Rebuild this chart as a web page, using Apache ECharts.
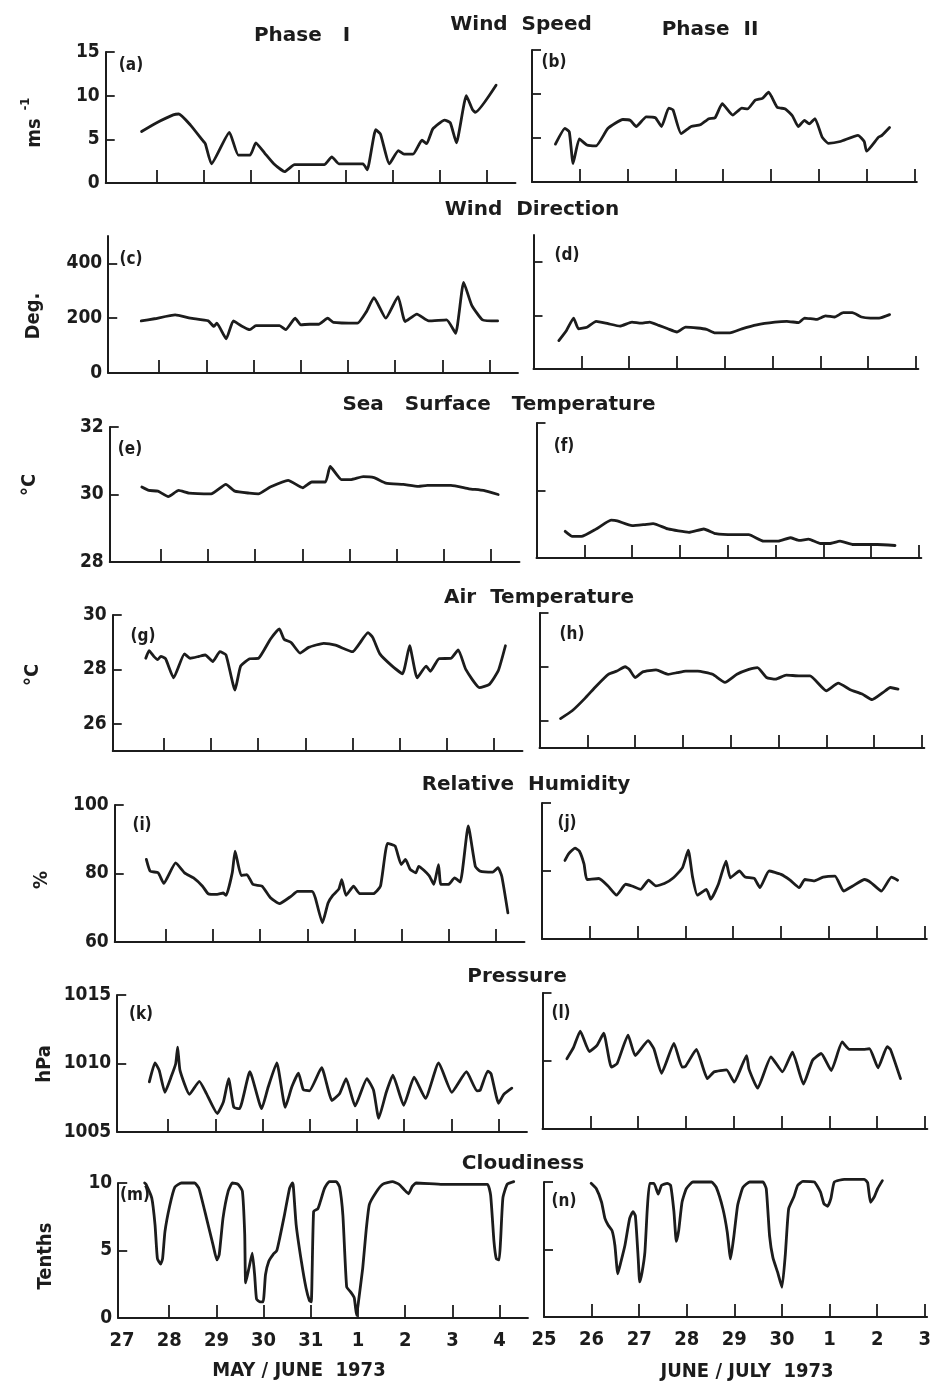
<!DOCTYPE html>
<html><head><meta charset="utf-8">
<script src="https://cdn.jsdelivr.net/npm/echarts@6/dist/echarts.min.js"></script>
<style>html,body{margin:0;padding:0;background:#fff}#c{width:934px;height:1385px}</style>
</head><body><div id="c"></div>
<script>
// ---------- DATA (x = days since first date on axis, y = value) ----------
const xLabelsP1 = ["27","28","29","30","31","1","2","3","4"];
const xLabelsP2 = ["25","26","27","28","29","30","1","2","3"];

const windSpeedP1 = [[0.68,5.9],[1.0,6.9],[1.35,7.8],[1.47,7.9],[1.72,6.6],[1.97,4.9],[2.03,4.5],[2.16,2.2],[2.54,5.8],[2.73,3.2],[2.98,3.2],[3.1,4.6],[3.29,3.4],[3.48,2.2],[3.71,1.3],[3.92,2.1],[4.55,2.1],[4.71,3.0],[4.86,2.2],[5.37,2.2],[5.46,1.5],[5.64,6.1],[5.74,5.6],[5.93,2.2],[6.12,3.7],[6.24,3.3],[6.43,3.3],[6.62,4.9],[6.72,4.5],[6.85,6.2],[7.1,7.2],[7.22,6.9],[7.35,4.6],[7.56,10.0],[7.69,8.4],[7.75,8.1],[8.19,11.2]];
const windSpeedP2 = [[0.49,4.3],[0.69,6.1],[0.78,5.7],[0.86,2.1],[0.99,4.9],[1.15,4.2],[1.34,4.1],[1.59,6.1],[1.9,7.1],[2.06,7.0],[2.18,6.3],[2.39,7.4],[2.58,7.3],[2.71,6.3],[2.86,8.4],[2.95,8.2],[3.12,5.5],[3.33,6.3],[3.52,6.5],[3.7,7.2],[3.83,7.3],[3.98,8.9],[4.2,7.6],[4.39,8.4],[4.51,8.3],[4.67,9.3],[4.82,9.5],[4.95,10.2],[5.13,8.5],[5.3,8.3],[5.45,7.5],[5.57,6.3],[5.7,7.0],[5.8,6.6],[5.92,7.2],[6.07,5.1],[6.2,4.4],[6.45,4.6],[6.82,5.3],[6.95,4.6],[7.0,3.5],[7.25,5.1],[7.32,5.3],[7.48,6.2]];

const windDirP1 = [[0.62,190],[0.9,198],[1.34,212],[1.66,200],[2.04,190],[2.16,170],[2.22,182],[2.42,125],[2.57,190],[2.73,173],[2.92,158],[3.05,173],[3.55,173],[3.68,158],[3.88,200],[4.0,176],[4.19,178],[4.38,178],[4.57,200],[4.69,185],[5.2,182],[5.39,224],[5.55,275],[5.8,200],[6.06,279],[6.21,188],[6.46,215],[6.71,190],[7.09,194],[7.28,145],[7.45,331],[7.62,248],[7.85,194],[8.17,190]];
const windDirP2 = [[0.53,106],[0.69,144],[0.84,190],[0.94,150],[1.12,156],[1.31,178],[1.56,169],[1.81,160],[2.06,175],[2.25,171],[2.43,175],[2.62,163],[2.81,150],[3.0,138],[3.18,156],[3.43,153],[3.62,148],[3.8,135],[4.11,135],[4.36,150],[4.67,165],[5.05,175],[5.3,178],[5.55,173],[5.67,190],[5.92,185],[6.11,198],[6.3,194],[6.48,210],[6.67,210],[6.86,194],[7.05,190],[7.23,190],[7.45,203]];

const sstP1 = [[0.6,30.22],[0.75,30.12],[0.94,30.1],[1.16,29.94],[1.38,30.12],[1.6,30.04],[2.07,30.02],[2.38,30.3],[2.57,30.1],[2.88,30.04],[3.07,30.02],[3.32,30.22],[3.7,30.42],[4.01,30.2],[4.2,30.37],[4.49,30.37],[4.59,30.83],[4.83,30.44],[5.02,30.44],[5.29,30.53],[5.52,30.5],[5.77,30.34],[6.14,30.3],[6.46,30.24],[6.65,30.27],[7.15,30.27],[7.53,30.17],[7.84,30.12],[8.15,30.0]];
const sstP2 = [[0.6,28.79],[0.75,28.64],[0.94,28.64],[1.25,28.86],[1.56,29.12],[1.69,29.1],[2.0,28.96],[2.25,28.99],[2.44,29.02],[2.75,28.86],[3.19,28.76],[3.5,28.86],[3.75,28.72],[4.13,28.69],[4.44,28.69],[4.75,28.5],[5.06,28.5],[5.31,28.6],[5.5,28.52],[5.69,28.56],[5.94,28.43],[6.13,28.43],[6.35,28.5],[6.63,28.4],[7.13,28.4],[7.5,28.37]];

const airTP1 = [[0.62,28.41],[0.69,28.69],[0.79,28.48],[0.87,28.36],[0.94,28.48],[1.04,28.39],[1.21,27.69],[1.44,28.57],[1.56,28.41],[1.75,28.48],[1.88,28.53],[2.04,28.29],[2.19,28.65],[2.32,28.53],[2.51,27.24],[2.63,28.12],[2.82,28.39],[3.01,28.41],[3.26,29.11],[3.45,29.49],[3.55,29.11],[3.7,28.99],[3.89,28.6],[4.07,28.81],[4.39,28.96],[4.64,28.89],[5.0,28.65],[5.33,29.35],[5.43,29.17],[5.58,28.57],[5.83,28.14],[6.06,27.84],[6.21,28.87],[6.37,27.69],[6.56,28.12],[6.65,27.93],[6.83,28.39],[7.09,28.41],[7.24,28.72],[7.4,28.0],[7.69,27.33],[7.9,27.45],[8.09,27.96],[8.24,28.87]];
const airTP2 = [[0.44,26.09],[0.69,26.39],[0.94,26.82],[1.19,27.3],[1.44,27.73],[1.62,27.85],[1.79,28.01],[1.88,27.91],[2.0,27.61],[2.16,27.82],[2.44,27.89],[2.69,27.73],[2.88,27.79],[3.06,27.85],[3.31,27.85],[3.62,27.73],[3.88,27.43],[4.13,27.73],[4.38,27.91],[4.56,27.98],[4.75,27.61],[4.94,27.55],[5.16,27.7],[5.44,27.67],[5.66,27.67],[6.0,27.12],[6.25,27.4],[6.5,27.16],[6.75,27.0],[6.96,26.79],[7.19,27.06],[7.34,27.24],[7.5,27.18]];

const rhP1 = [[0.59,84.1],[0.67,80.7],[0.84,80.2],[0.96,77.1],[1.21,83.1],[1.4,80.2],[1.59,78.7],[1.78,76.3],[1.9,74.1],[2.09,73.9],[2.22,74.3],[2.28,73.6],[2.41,80.2],[2.47,86.5],[2.6,79.4],[2.72,79.7],[2.85,76.8],[3.04,76.3],[3.22,72.9],[3.41,71.2],[3.66,73.4],[3.79,74.8],[4.1,74.8],[4.17,72.9],[4.32,65.6],[4.44,71.4],[4.54,73.6],[4.67,75.5],[4.73,78.2],[4.82,73.6],[4.98,76.3],[5.11,74.1],[5.4,74.1],[5.55,76.3],[5.7,88.8],[5.86,88.0],[5.99,82.6],[6.08,84.1],[6.18,81.2],[6.3,80.2],[6.36,82.1],[6.58,79.4],[6.68,76.8],[6.78,82.6],[6.83,76.8],[6.99,76.8],[7.12,78.7],[7.24,77.5],[7.41,93.9],[7.56,82.1],[7.66,80.7],[7.93,80.4],[8.04,81.7],[8.12,79.2],[8.25,68.5]];
const rhP2 = [[0.48,83.1],[0.56,85.1],[0.69,86.7],[0.78,85.9],[0.88,82.0],[0.94,77.5],[1.19,77.8],[1.38,75.6],[1.56,72.9],[1.75,76.1],[1.88,75.6],[2.06,74.6],[2.23,77.3],[2.38,75.6],[2.56,76.3],[2.75,78.0],[2.94,81.0],[3.06,86.1],[3.15,78.2],[3.25,72.9],[3.44,74.6],[3.53,71.7],[3.69,76.1],[3.85,82.9],[3.94,78.0],[4.13,80.0],[4.25,78.2],[4.44,77.8],[4.56,75.1],[4.75,80.0],[5.0,79.0],[5.19,77.3],[5.38,75.1],[5.5,77.5],[5.69,77.1],[5.88,78.2],[6.13,78.5],[6.31,74.1],[6.5,75.6],[6.75,77.5],[6.88,76.6],[7.1,74.1],[7.31,78.2],[7.44,77.3]];

const presP1 = [[0.6,1008.66],[0.72,1010.05],[0.81,1009.5],[0.93,1007.9],[1.07,1009.1],[1.16,1010.0],[1.2,1011.2],[1.25,1009.5],[1.45,1007.75],[1.66,1008.7],[1.81,1007.8],[2.04,1006.35],[2.17,1007.2],[2.28,1008.9],[2.39,1006.8],[2.51,1006.7],[2.73,1009.4],[2.98,1006.7],[3.12,1008.3],[3.3,1010.05],[3.48,1006.8],[3.62,1008.3],[3.76,1009.3],[3.86,1008.1],[3.99,1008.0],[4.25,1009.7],[4.47,1007.3],[4.63,1007.8],[4.77,1008.9],[4.96,1006.9],[5.21,1008.9],[5.35,1008.05],[5.46,1006.0],[5.62,1007.9],[5.76,1009.15],[5.99,1006.95],[6.21,1009.0],[6.45,1007.45],[6.73,1010.05],[7.01,1007.9],[7.32,1009.4],[7.54,1008.0],[7.61,1008.05],[7.77,1009.45],[7.84,1009.25],[8.0,1007.1],[8.11,1007.75],[8.28,1008.2]];
const presP2 = [[0.51,1010.17],[0.65,1011.0],[0.79,1012.2],[0.98,1010.7],[1.14,1011.15],[1.28,1012.05],[1.44,1009.55],[1.56,1009.8],[1.79,1011.9],[1.94,1010.4],[2.21,1011.5],[2.33,1010.9],[2.49,1009.1],[2.75,1011.3],[2.92,1009.55],[2.99,1009.6],[3.22,1010.85],[3.45,1008.7],[3.59,1009.2],[3.85,1009.35],[4.01,1008.45],[4.27,1010.4],[4.32,1009.4],[4.5,1008.0],[4.78,1010.3],[5.02,1009.2],[5.23,1010.65],[5.46,1008.3],[5.65,1010.05],[5.83,1010.55],[6.04,1009.3],[6.27,1011.4],[6.42,1010.85],[6.67,1010.85],[6.84,1010.9],[7.02,1009.5],[7.21,1011.05],[7.28,1010.85],[7.49,1008.7]];

const cloudP1 = [[0.48,10.0],[0.51,9.9],[0.63,8.9],[0.7,6.9],[0.75,4.4],[0.82,4.0],[0.86,4.4],[0.91,6.4],[1.01,8.3],[1.12,9.7],[1.26,10.0],[1.54,10.0],[1.63,9.6],[1.79,7.4],[1.93,5.4],[2.01,4.3],[2.06,4.7],[2.14,7.4],[2.25,9.4],[2.34,10.0],[2.46,9.9],[2.55,9.4],[2.6,6.2],[2.62,2.6],[2.69,3.7],[2.76,4.8],[2.81,3.2],[2.85,1.4],[2.92,1.2],[2.99,1.2],[3.04,3.2],[3.11,4.2],[3.2,4.7],[3.28,5.0],[3.34,5.9],[3.44,7.6],[3.55,9.6],[3.61,10.0],[3.63,9.75],[3.69,6.9],[3.8,4.2],[3.9,2.2],[3.97,1.3],[4.01,1.2],[4.06,7.9],[4.15,8.1],[4.2,8.6],[4.29,9.6],[4.39,10.1],[4.54,10.1],[4.61,9.7],[4.68,7.6],[4.76,2.3],[4.85,1.9],[4.92,1.5],[4.97,0.2],[5.01,1.2],[5.1,3.7],[5.17,6.4],[5.24,8.4],[5.38,9.3],[5.52,9.9],[5.73,10.1],[5.87,9.9],[5.98,9.5],[6.07,9.2],[6.15,9.75],[6.23,10.0],[6.79,9.9],[7.74,9.9],[7.81,9.1],[7.88,5.7],[7.93,4.4],[7.99,4.3],[8.02,5.7],[8.07,8.9],[8.16,9.9],[8.3,10.1]];
const cloudP2 = [[0.99,9.9],[1.1,9.5],[1.21,8.5],[1.28,7.3],[1.35,6.8],[1.43,6.4],[1.49,5.3],[1.55,3.2],[1.61,4.0],[1.7,5.3],[1.8,7.3],[1.87,7.8],[1.92,7.5],[1.98,4.3],[2.01,2.6],[2.06,3.3],[2.12,4.8],[2.17,8.0],[2.22,9.9],[2.31,9.9],[2.4,9.1],[2.47,9.75],[2.59,9.9],[2.66,9.75],[2.73,7.8],[2.78,5.6],[2.83,6.4],[2.9,8.5],[2.99,9.5],[3.13,10.0],[3.52,10.0],[3.62,9.6],[3.76,8.0],[3.85,6.3],[3.92,4.3],[3.99,6.0],[4.07,8.3],[4.18,9.6],[4.32,10.0],[4.6,10.0],[4.67,9.5],[4.74,6.0],[4.81,4.4],[4.91,3.3],[5.0,2.2],[5.07,4.6],[5.14,8.0],[5.25,8.9],[5.33,9.75],[5.44,10.05],[5.68,10.0],[5.81,9.25],[5.88,8.4],[5.96,8.2],[6.03,8.8],[6.1,10.0],[6.31,10.2],[6.73,10.2],[6.8,9.95],[6.86,8.5],[6.94,8.9],[7.01,9.5],[7.11,10.1]];

// ---------- LAYOUT / STYLE ----------
const INK = '#1c1c1c';
const FONT = '"DejaVu Sans Condensed","DejaVu Sans",sans-serif';
const TFONT = '"DejaVu Sans",sans-serif';
const DXL = 47.2, DXR = 47.8, LMIN = -0.08, LMAX = 8.6, RMAX = 8.05;
const rows = [
  {L0:109.5,R0:532,  lt:52,  lb:183, rt:50,  rb:182},
  {L0:112,  R0:533.5,lt:236, lb:373, rt:235, rb:369},
  {L0:113.5,R0:536.5,lt:427, lb:562, rt:423, rb:558},
  {L0:116.5,R0:539.5,lt:615, lb:751, rt:613, rb:748},
  {L0:118.5,R0:542,  lt:805, lb:942, rt:803, rb:939},
  {L0:121,  R0:542.5,lt:995, lb:1132,rt:993, rb:1129},
  {L0:122,  R0:544,  lt:1183,lb:1318,rt:1182,rb:1317}
];
const yScales = [
  {min:0,max:15,labels:[0,5,10,15],ticks:[5,10,15]},
  {min:0,max:500,labels:[0,200,400],ticks:[200,400]},
  {min:28,max:32,labels:[28,30,32],ticks:[30,32]},
  {min:25,max:30,labels:[26,28,30],ticks:[26,28,30]},
  {min:60,max:100,labels:[60,80,100],ticks:[80,100]},
  {min:1005,max:1015,labels:[1005,1010,1015],ticks:[1010,1015]},
  {min:0,max:10,labels:[0,5,10],ticks:[5,10]}
];
const seriesData = [[windSpeedP1,windSpeedP2],[windDirP1,windDirP2],[sstP1,sstP2],[airTP1,airTP2],[rhP1,rhP2],[presP1,presP2],[cloudP1,cloudP2]];

const grids = [], xAxes = [], yAxes = [], series = [];
const dayTicks = [1,2,3,4,5,6,7,8];
const dayLabels = [0,1,2,3,4,5,6,7,8];
rows.forEach((r, i) => {
  [0,1].forEach(side => {
    const idx = grids.length;
    const left = side === 0 ? r.L0 + LMIN*DXL : r.R0;
    const width = side === 0 ? (LMAX - LMIN)*DXL : RMAX*DXR;
    const top = side === 0 ? r.lt : r.rt;
    const bottom = side === 0 ? r.lb : r.rb;
    grids.push({left:left, top:top, width:width, height:bottom-top, containLabel:false});
    const last = i === rows.length - 1;
    const labs = side === 0 ? xLabelsP1 : xLabelsP2;
    xAxes.push({
      type:'value', gridIndex:idx, min: side===0 ? LMIN : 0, max: side===0 ? LMAX : RMAX,
      splitLine:{show:false},
      axisLine:{show:true, onZero:false, lineStyle:{color:INK,width:2}},
      axisTick:{show:true, inside:true, length:13, customValues:dayTicks, lineStyle:{color:INK,width:1.8}},
      axisLabel:{show:last, customValues:dayLabels, margin:13, color:INK, fontFamily:FONT, fontWeight:'bold', fontSize:20,
        formatter:(v)=>labs[Math.round(v)]}
    });
    const ys = yScales[i];
    yAxes.push({
      type:'value', gridIndex:idx, min:ys.min, max:ys.max,
      splitLine:{show:false},
      axisLine:{show:true, onZero:false, lineStyle:{color:INK,width:2}},
      axisTick:{show:true, inside:true, length:9, customValues:ys.ticks, lineStyle:{color:INK,width:1.8}},
      axisLabel:{show:side===0, customValues:ys.labels, margin:6, color:INK, fontFamily:FONT, fontWeight:'bold', fontSize:19,
        formatter:(v)=>String(v)}
    });
    series.push({
      type:'line', xAxisIndex:idx, yAxisIndex:idx, data:seriesData[i][side],
      showSymbol:false, smooth:0.15, clip:false,
      lineStyle:{color:INK, width:2.8, cap:'round', join:'round'}
    });
  });
});

function txt(x, y, s, size, fam) {
  return {type:'text', x:x, y:y, style:{text:s, fill:INK, font:'bold '+size+'px '+(fam||FONT), textAlign:'center', textVerticalAlign:'middle'}};
}
function vtxt(x, y, s, size) {
  return {type:'text', x:x, y:y, rotation:Math.PI/2, style:{text:s, fill:INK, font:'bold '+size+'px '+FONT, textAlign:'center', textVerticalAlign:'middle'}};
}
const titles = [
  ['Wind  Speed',521,25],['Phase   I',302,36],['Phase  II',710,30],
  ['Wind  Direction',532,210],['Sea   Surface   Temperature',499,405],
  ['Air  Temperature',539,598],['Relative  Humidity',526,785],
  ['Pressure',517,977],['Cloudiness',523,1164]
];
const footers = [['MAY / JUNE  1973',299,1371],['JUNE / JULY  1973',747,1372]];
const panelLabels = [
  ['(a)',131,66],['(b)',554,63],['(c)',131,260],['(d)',567,256],['(e)',130,450],['(f)',564,447],
  ['(g)',143,637],['(h)',572,635],['(i)',142,826],['(j)',567,824],['(k)',141,1015],['(l)',561,1014],
  ['(m)',135,1196],['(n)',564,1202]
];
const yNames = [['ms',35,133],['Deg.',34,316],['°C',30,485],['°C',33,675],['%',42,880],['hPa',45,1064],['Tenths',46,1256]];
const graphics = [];
titles.forEach(t => graphics.push(txt(t[1], t[2], t[0], 20, TFONT)));
footers.forEach(t => graphics.push(txt(t[1], t[2], t[0], 20)));
panelLabels.forEach(t => graphics.push(txt(t[1], t[2], t[0], 17)));
yNames.forEach(t => graphics.push(vtxt(t[1], t[2], t[0], 20)));
graphics.push(vtxt(26, 104, '-1', 13));

const chart = echarts.init(document.getElementById('c'), null, {renderer:'canvas'});
chart.setOption({
  backgroundColor:'#ffffff', animation:false,
  grid:grids, xAxis:xAxes, yAxis:yAxes, series:series, graphic:graphics
});
</script></body></html>
